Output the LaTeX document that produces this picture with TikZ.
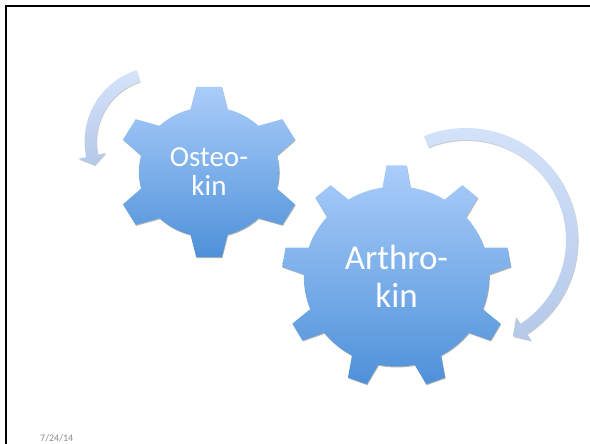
\documentclass[tikz,border=0pt]{standalone}
\usepackage{fontspec}
\setmainfont{Carlito}
\usetikzlibrary{shadows}

\definecolor{gearTop}{RGB}{170,205,250}
\definecolor{gearBot}{RGB}{78,145,217}
\definecolor{arrowTop}{RGB}{213,228,251}
\definecolor{arrowBot}{RGB}{180,200,232}
\definecolor{dategray}{RGB}{137,137,137}

\tikzset{
  gearfill/.style={top color=gearTop, bottom color=gearBot,
    drop shadow={shadow xshift=0.6pt, shadow yshift=-1pt, opacity=0.3, fill=black}},
  arrowfill/.style={top color=arrowTop, bottom color=arrowBot,
    drop shadow={shadow xshift=0.6pt, shadow yshift=-1pt, opacity=0.2, fill=black}},
  gearlabel/.style={text=white, align=center, inner sep=0pt}
}

\def\Rs{65}
\def\Ts{86}
\def\Rb{90}
\def\Tb{111.5}

\begin{document}
\begin{tikzpicture}[x=1pt,y=1pt]
            \useasboundingbox (0,0) rectangle (590,444);
            \draw[line width=2pt] (590,438) -- (6,438) -- (6,0);

            % small gear
            \begin{scope}[shift={(209,272)}, xscale=1.08]
                \shade[gearfill] (74.7:\Rs) \foreach \a in {90,150,...,390} {
                    -- (\a-15.3:\Rs) -- (\a-7.9:\Ts) -- (\a+7.9:\Ts) -- (\a+15.3:\Rs)
                    arc[start angle=\a+15.3, end angle=\a+44.7, radius=\Rs] } -- cycle;
            \end{scope}

            % big gear
            \begin{scope}[shift={(396.5,167.5)}, xscale=1.03]
                \shade[gearfill] (81.3:\Rb) \foreach \a in {90,130,...,410} {
                    -- (\a-8.7:\Rb) -- (\a-5:\Tb) -- (\a+5:\Tb) -- (\a+8.7:\Rb)
                    arc[start angle=\a+8.7, end angle=\a+31.3, radius=\Rb] } -- cycle;
            \end{scope}

            \node[gearlabel, font=\fontsize{29}{29}\selectfont] (osteo) at (209,272) {Osteo-\\kin};
            \node[gearlabel, font=\fontsize{35}{37.4}\selectfont] (arthro) at (396.5,167.5) {Arthro-\\kin};

            % arrows
            \begin{scope}[shift={(159.6,302.5)}]
                \shade[arrowfill] (108:75) arc[start angle=108, end angle=192, radius=75]
                    -- (192:83) -- (200:69) -- (192:55) -- (192:63)
                    arc[start angle=192, end angle=108, radius=63] -- cycle;
            \end{scope}
            \begin{scope}[shift={(466,204)}]
                \shade[arrowfill] (112:112) arc[start angle=112, end angle=-57, radius=112]
                    -- (-57:120) -- (-64:107) -- (-57:92) -- (-57:100)
                    arc[start angle=-57, end angle=112, radius=100] -- cycle;
            \end{scope}

            \node[anchor=base west, text=dategray, font=\fontsize{10}{12}\selectfont, inner sep=0pt] (date) at (40,2) {7/24/14};
        \end{tikzpicture}
\end{document}
